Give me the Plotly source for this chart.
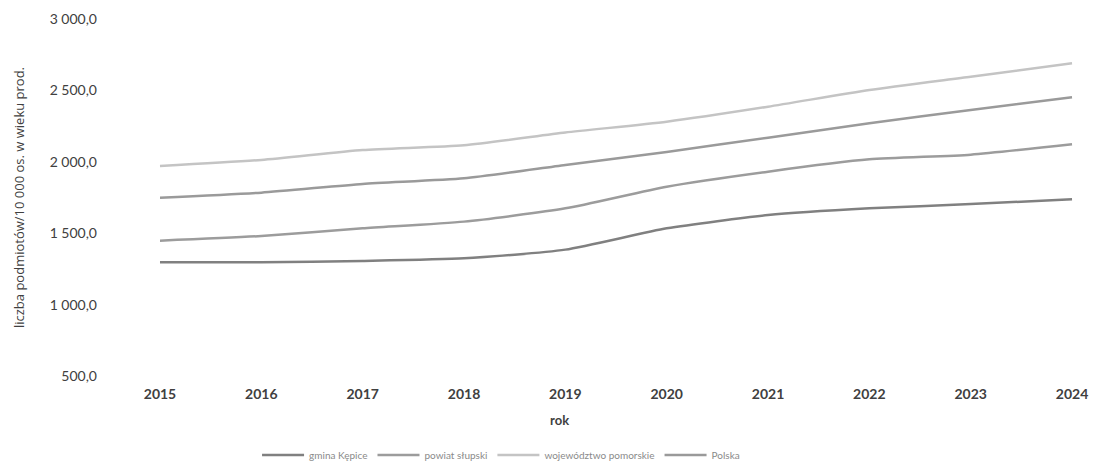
import plotly.graph_objects as go

years = ["2015", "2016", "2017", "2018", "2019", "2020", "2021", "2022", "2023", "2024"]
gmina_kepice = [1296, 1296, 1306, 1324, 1385, 1534, 1627, 1674, 1704, 1737]
powiat_slupski = [1448, 1480, 1534, 1581, 1674, 1826, 1931, 2017, 2050, 2123]
wojewodztwo_pomorskie = [1971, 2013, 2083, 2116, 2205, 2281, 2386, 2503, 2596, 2690]
polska = [1749, 1784, 1845, 1884, 1978, 2069, 2169, 2270, 2363, 2452]

names = ["gmina Kępice", "powiat słupski", "województwo pomorskie", "Polska"]
series = [gmina_kepice, powiat_slupski, wojewodztwo_pomorskie, polska]
colors = ["#808080", "#9c9c9c", "#c4c4c4", "#9a9a9a"]

W, H = 1094, 461
L, R, T, B = 100, 9, 19, 85

fig = go.Figure()
for n, s, c in zip(names, series, colors):
    fig.add_trace(go.Scatter(
        x=list(range(len(years))), y=s, name=n, mode="lines",
        line=dict(color=c, width=2.5, shape="spline", smoothing=0.6),
    ))

fig.update_layout(
    width=W, height=H,
    margin=dict(l=L, r=R, t=T, b=B, autoexpand=False),
    paper_bgcolor="white", plot_bgcolor="white",
    separators=", ",
    font=dict(family="Lato", color="#404040"),
    showlegend=True,
    legend=dict(orientation="h", xref="container", x=0.458, xanchor="center",
                yref="container", y=0.013, yanchor="middle",
                font=dict(size=10, color="#8a8a8a"), itemwidth=42, tracegroupgap=0),
    xaxis=dict(
        tickmode="array", tickvals=list(range(len(years))), ticktext=years,
        range=[-0.592, 9.128], showgrid=False, zeroline=False, showline=False,
        ticks="", ticklabelstandoff=8, automargin=False,
        tickfont=dict(size=14, weight="bold", color="#404040"),
    ),
    yaxis=dict(
        range=[500, 3000], tickvals=[500, 1000, 1500, 2000, 2500, 3000],
        tickformat=",.1f", showgrid=False, zeroline=False, showline=False,
        ticks="", ticklabelstandoff=2, automargin=False,
        tickfont=dict(size=14, color="#404040"),
        title=dict(text="liczba podmiotów/10 000 os. w wieku prod.",
                   font=dict(family="Open Sans", size=13, color="#404040"), standoff=22),
    ),
    annotations=[dict(text="rok", xref="paper", yref="paper", x=0.466, y=-0.095,
                      xanchor="center", yanchor="top", showarrow=False,
                      font=dict(size=13, weight="bold", color="#404040"))],
)

fig.write_html("out.html", config={"displayModeBar": False},
               post_script="document.body.style.margin='0';document.body.style.overflow='hidden';")
